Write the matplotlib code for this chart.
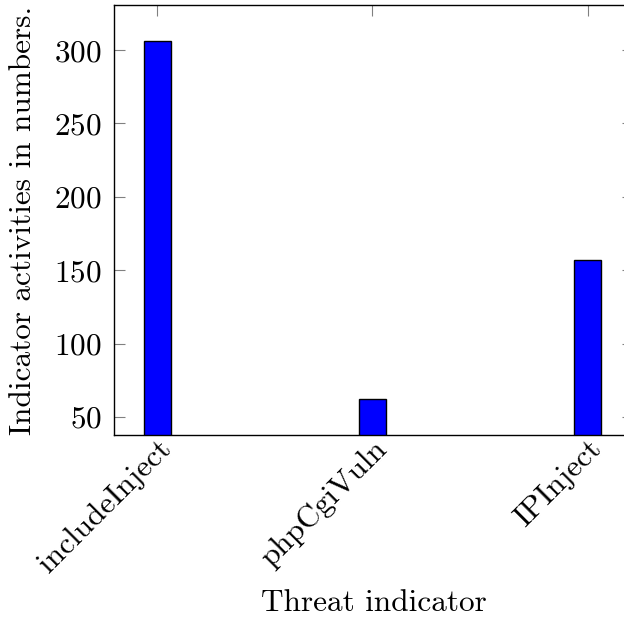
import matplotlib
matplotlib.use("Agg")
import matplotlib.pyplot as plt
from matplotlib.transforms import ScaledTranslation

# data
categories = ["includeInject", "phpCgiVuln", "IPInject"]
activity_counts = [306, 62, 157]
y_ticks = [50, 100, 150, 200, 250, 300]

plt.rcParams["font.family"] = ["cmr10", "DejaVu Serif"]
plt.rcParams["mathtext.fontset"] = "cm"
plt.rcParams["axes.formatter.use_mathtext"] = True

fig = plt.figure(figsize=(6.24, 6.19), dpi=100)
ax = fig.add_axes([114 / 624, 1 - 435 / 619, (633 - 114) / 624, (435 - 5) / 619])

x = list(range(len(categories)))
ax.bar(x, activity_counts, width=0.126, color="#0000ff", edgecolor="black",
       linewidth=1.0, zorder=2)

ax.set_xlim(-0.2, 2.21)
ax.set_ylim(37.7, 330.7)
ax.set_yticks(y_ticks)
ax.set_xticks(x)
ax.set_xticklabels(categories, rotation=45, ha="right", va="center",
                   rotation_mode="anchor")

ax.tick_params(direction="in", length=8, width=0.8, color="#808080",
               top=True, right=True, labelsize=22.5, pad=9)
# nudge the rotated labels to sit like the reference
shift = ScaledTranslation(0.10, 0.03, fig.dpi_scale_trans)
for lbl in ax.get_xticklabels():
    lbl.set_transform(lbl.get_transform() + shift)

for spine in ax.spines.values():
    spine.set_linewidth(1.0)
    spine.set_color("black")

ax.set_ylabel("Indicator activities in numbers.", fontsize=22.5, labelpad=12)
fig.text(373.5 / 624, 1 - 603 / 619, "Threat indicator", fontsize=22.5,
         ha="center", va="center")

fig.savefig("out.png", dpi=100)
